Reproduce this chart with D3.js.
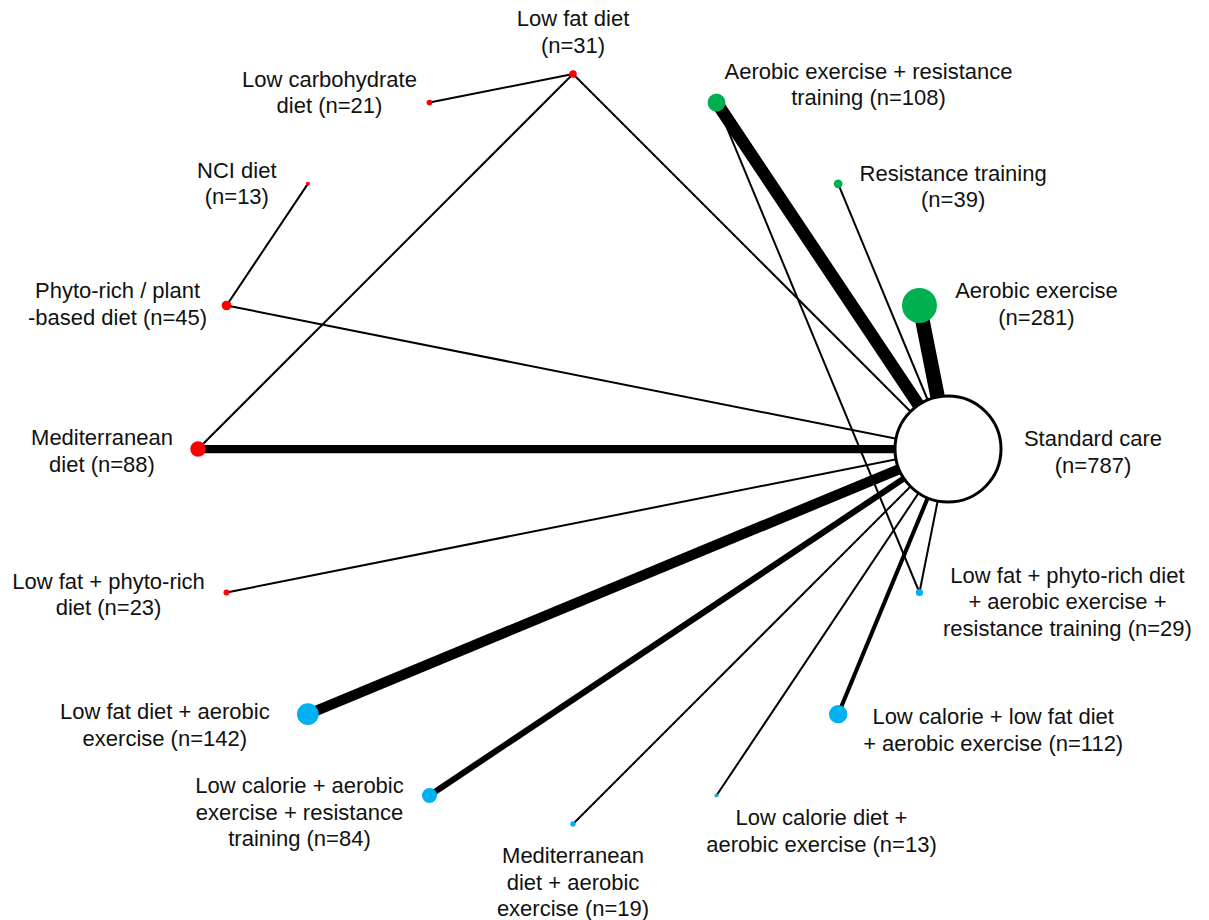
<!DOCTYPE html>
<html>
<head>
<meta charset="utf-8">
<script src="https://cdn.jsdelivr.net/npm/d3@7"></script>
<style>
  html, body { margin: 0; padding: 0; background: #fff; }
  svg { display: block; }
  text { font-family: "Liberation Sans", Arial, sans-serif; font-size: 22px; fill: #111; }
</style>
</head>
<body>
<svg id="chart" width="1209" height="920"></svg>
<script>
// Interventions, clockwise from the top of the network circle
const nodeIds = [
  "LF", "AE_RT", "RT", "AE", "SC", "LFPR_AE_RT", "LC_LF_AE", "LC_AE",
  "MED_AE", "LC_AE_RT", "LF_AE", "LFPR", "MED", "PR", "NCI", "LCHO"
];
// Label lines; the participant count is appended to the last line
const nodeLabelLines = [
  ["Low fat diet", ""],
  ["Aerobic exercise + resistance", "training"],
  ["Resistance training", ""],
  ["Aerobic exercise", ""],
  ["Standard care", ""],
  ["Low fat + phyto-rich diet", "+ aerobic exercise +", "resistance training"],
  ["Low calorie + low fat diet", "+ aerobic exercise"],
  ["Low calorie diet +", "aerobic exercise"],
  ["Mediterranean", "diet + aerobic", "exercise"],
  ["Low calorie + aerobic", "exercise + resistance", "training"],
  ["Low fat diet + aerobic", "exercise"],
  ["Low fat + phyto-rich", "diet"],
  ["Mediterranean", "diet"],
  ["Phyto-rich / plant", "-based diet"],
  ["NCI diet", ""],
  ["Low carbohydrate", "diet"]
];
// Participants per intervention
const nodeN = [31, 108, 39, 281, 787, 29, 112, 13, 19, 84, 142, 23, 88, 45, 13, 21];
// Intervention type
const nodeType = [
  "diet", "exercise", "exercise", "exercise", "reference", "combined", "combined", "combined",
  "combined", "combined", "combined", "diet", "diet", "diet", "diet", "diet"
];

// Direct comparisons: endpoints and number of trials
const edgeSource = ["LCHO", "LF", "LF", "NCI", "PR", "MED", "AE_RT", "AE_RT", "RT", "AE", "LFPR", "LF_AE", "LC_AE_RT", "MED_AE", "LC_AE", "LC_LF_AE", "LFPR_AE_RT"];
const edgeTarget = ["LF", "SC", "MED", "PR", "SC", "SC", "SC", "LFPR_AE_RT", "SC", "SC", "SC", "SC", "SC", "SC", "SC", "SC", "SC"];
const edgeTrials = [1, 1, 1, 1, 1, 4, 6, 1, 1, 7, 1, 5, 3, 1, 1, 2, 1];

// Label placement relative to each node: [dx, dy] of the first line's centre
const labelOffset = [
  [0, -56], [152, -32], [115, -11], [117, -15], [145, -11], [148, -18], [155, 2], [105, 22],
  [0, 31], [-130, -10], [-143, -3], [-118, -12], [-96, -12], [-109, -15], [-71, -14], [-100, -24]
];

const svg = d3.select("#chart");
const cx = 573, cy = 449, R = 375;
const lineHeight = 26.5;

const color = d3.scaleOrdinal()
  .domain(["diet", "exercise", "combined", "reference"])
  .range(["#ff0000", "#00b050", "#00b0f0", "#ffffff"]);

// Node positions evenly spaced around the circle
const angle = d3.scaleLinear().domain([0, nodeIds.length]).range([0, 2 * Math.PI]);
const radius = d3.scalePow().exponent(0.7).domain([0, 281, 787]).range([0, 17.5, 53]);
const width = d3.scaleLinear().domain([1, 7]).range([2, 14.5]);

const nodes = nodeIds.map((id, i) => ({
  id, i,
  n: nodeN[i],
  type: nodeType[i],
  lines: nodeLabelLines[i],
  x: cx + R * Math.sin(angle(i)),
  y: cy - R * Math.cos(angle(i))
}));
const byId = new Map(nodes.map(d => [d.id, d]));
const edges = edgeSource.map((s, i) => ({ s: byId.get(s), t: byId.get(edgeTarget[i]), k: edgeTrials[i] }));

svg.append("g").selectAll("line")
  .data(edges)
  .join("line")
  .attr("x1", d => d.s.x).attr("y1", d => d.s.y)
  .attr("x2", d => d.t.x).attr("y2", d => d.t.y)
  .attr("stroke", "#000")
  .attr("stroke-width", d => width(d.k));

svg.append("g").selectAll("circle")
  .data(nodes)
  .join("circle")
  .attr("cx", d => d.x).attr("cy", d => d.y)
  .attr("r", d => radius(d.n))
  .attr("fill", d => color(d.type))
  .attr("stroke", d => d.type === "reference" ? "#000" : "none")
  .attr("stroke-width", 3);

const labels = svg.append("g").selectAll("text")
  .data(nodes)
  .join("text")
  .attr("text-anchor", "middle")
  .attr("dominant-baseline", "central");

labels.each(function(d) {
  const t = d3.select(this);
  const off = labelOffset[d.i];
  const lines = d.lines.map((l, j) => {
    if (j < d.lines.length - 1) return l;
    return l ? `${l} (n=${d.n})` : `(n=${d.n})`;
  });
  lines.forEach((l, j) => {
    t.append("tspan")
      .attr("x", d.x + off[0])
      .attr("y", d.y + off[1] + j * lineHeight)
      .text(l);
  });
});
</script>
</body>
</html>
